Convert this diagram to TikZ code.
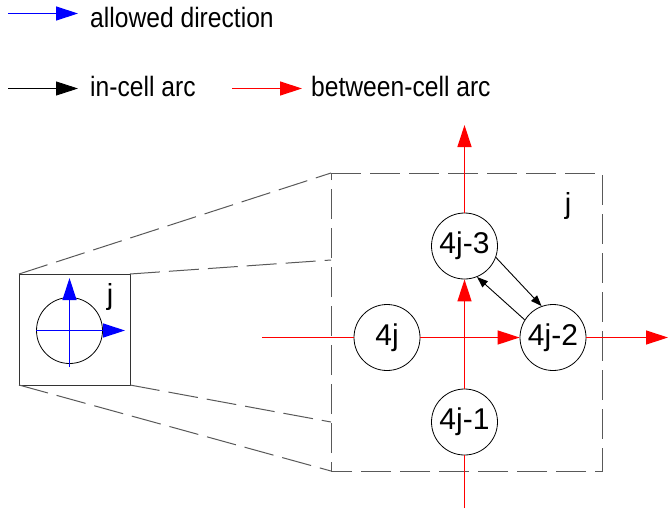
\documentclass[tikz,border=0pt]{standalone}
\usepackage{fontspec}
\setmainfont{Liberation Sans}
\newfontfamily\legfont[FakeStretch=0.88]{Liberation Sans}
\usetikzlibrary{arrows.meta}
\begin{document}
\begin{tikzpicture}[x=1pt,y=-1pt,
  bigtip/.style={-{Triangle[length=22pt,width=14pt]}},
  smalltip/.style={-{Triangle[length=11pt,width=8pt]}},
  bluearc/.style={draw=blue,line width=1.3pt},
  redarc/.style={draw=red,line width=1.3pt},
  blackarc/.style={draw=black,line width=0.9pt},
  dashline/.style={draw=black!65,line width=1pt,dash pattern=on 30pt off 9pt},
  cellnode/.style={circle,draw=black,line width=0.8pt,fill=white,minimum size=66pt,inner sep=0pt,font=\fontsize{30}{32}\selectfont},
  legtext/.style={anchor=base west,inner sep=0pt,font=\legfont\fontsize{28}{30}\selectfont},
  jtext/.style={inner sep=0pt,font=\fontsize{29}{32}\selectfont}]
\useasboundingbox (0,0) rectangle (668,512);
% legend
\coordinate (l1a) at (8,13.5); \coordinate (l1b) at (78,13.5);
\draw[bluearc,bigtip] (l1a) -- (l1b);
\node[legtext] (lt1) at (90,27) {allowed direction};
\coordinate (l2a) at (8,88.5); \coordinate (l2b) at (78,88.5);
\draw[blackarc,bigtip] (l2a) -- (l2b);
\node[legtext] (lt2) at (90,96) {in-cell arc};
\coordinate (l3a) at (232,88.5); \coordinate (l3b) at (302,88.5);
\draw[redarc,bigtip] (l3a) -- (l3b);
\node[legtext] (lt3) at (311,96) {between-cell arc};
% small cell
\coordinate (s1) at (19,274); \coordinate (s2) at (130,274);
\coordinate (s3) at (130,385); \coordinate (s4) at (19,385);
\draw[black!80,line width=0.9pt] (s1) rectangle (s3);
\node[circle,draw=black,line width=0.8pt,minimum size=66pt,inner sep=0pt] (sc) at (69.5,330.5) {};
\coordinate (sv0) at (69.5,367); \coordinate (sv1) at (69.5,278);
\coordinate (sh0) at (36,330.5); \coordinate (sh1) at (125,330.5);
\draw[bluearc,bigtip] (sv0) -- (sv1);
\draw[bluearc,bigtip] (sh0) -- (sh1);
\node[jtext] (js) at (110,297) {j};
% big cell
\coordinate (b1) at (331,173); \coordinate (b2) at (602,173);
\coordinate (b3) at (602,471); \coordinate (b4) at (331,471);
\draw[dashline] (b1) -- (b2) -- (b3) -- (b4) -- cycle;
\coordinate (t2) at (331,260); \coordinate (t3) at (331,422);
\draw[dashline] (s1) -- (b1);
\draw[dashline] (s2) -- (t2);
\draw[dashline] (s3) -- (t3);
\draw[dashline] (s4) -- (b4);
\node[jtext] (jb) at (568,206) {j};
% nodes
\node[cellnode] (n3) at (464.5,246) {4j-3};
\node[cellnode] (n0) at (387,337.5) {4j};
\node[cellnode] (n2) at (553,337.5) {4j-2};
\node[cellnode] (n1) at (464.5,422) {4j-1};
% red arcs
\coordinate (rb) at (464.5,508); \coordinate (rt) at (464.5,125);
\coordinate (rl) at (262,337.5); \coordinate (rr) at (668,337.5);
\draw[redarc] (rb) -- (n1.south);
\draw[redarc,bigtip] (n1.north) -- (n3.south);
\draw[redarc,bigtip] (n3.north) -- (rt);
\draw[redarc] (rl) -- (n0.west);
\draw[redarc,bigtip] (n0.east) -- (n2.west);
\draw[redarc,bigtip] (n2.east) -- (rr);
% in-cell arcs
\draw[blackarc,smalltip] (n3.-20) -- (n2.110);
\draw[blackarc,smalltip] (n2.148) -- (n3.-68);
\end{tikzpicture}
\end{document}
